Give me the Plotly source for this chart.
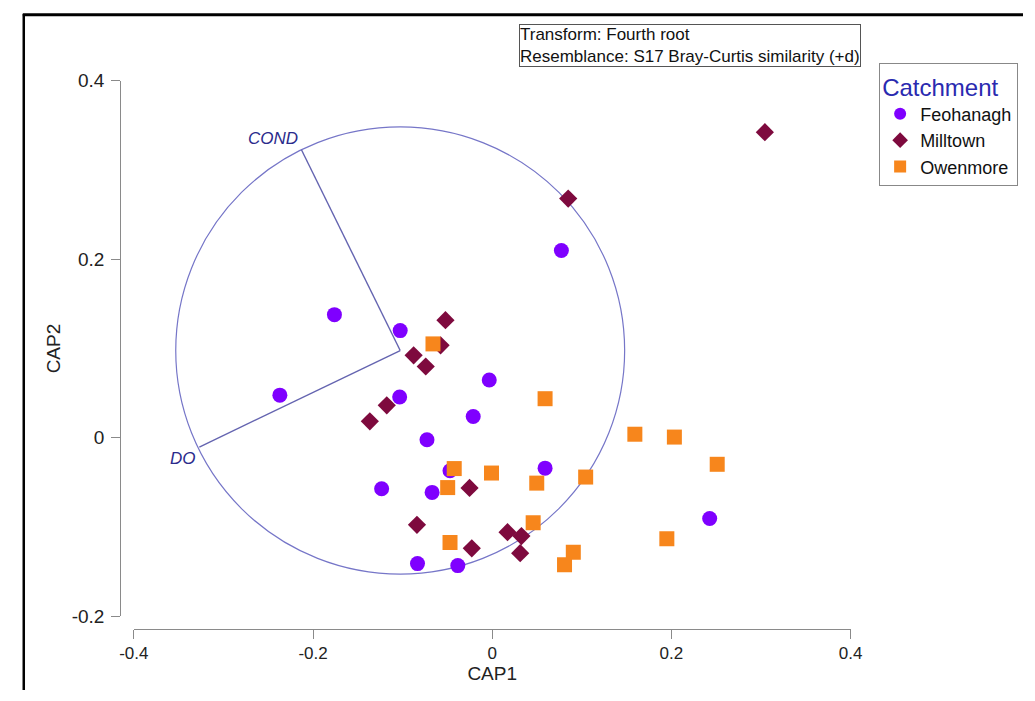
import plotly.graph_objects as go

W, H = 1035, 701

# ---- data ----
feo_x = [0.0772, -0.1761, -0.1027, -0.2370, -0.1033, -0.0033, -0.0212, -0.0728,
         -0.1234, -0.0671, -0.0471, 0.0590, 0.2427, -0.0834, -0.0384]
feo_y = [0.2098, 0.1380, 0.1201, 0.0478, 0.0457, 0.0647, 0.0239, -0.0022,
         -0.0571, -0.0612, -0.0370, -0.0340, -0.0905, -0.1410, -0.1432]

mil_x = [0.3043, 0.0848, -0.0522, -0.0576, -0.0877, -0.0742, -0.1177, -0.1366,
         -0.0253, -0.0840, -0.0228, 0.0171, 0.0326, 0.0312]
mil_y = [0.3424, 0.2680, 0.1318, 0.1036, 0.0924, 0.0799, 0.0364, 0.0185,
         -0.0562, -0.0975, -0.1239, -0.1058, -0.1101, -0.1293]

owe_x = [-0.0661, 0.0590, 0.1592, 0.2033, 0.2511, -0.0424, -0.0008, 0.0497,
         0.1043, -0.0497, 0.0457, -0.0471, 0.0905, 0.0807, 0.1949]
owe_y = [0.1052, 0.0438, 0.0040, 0.0008, -0.0297, -0.0345, -0.0395, -0.0508,
         -0.0440, -0.0558, -0.0953, -0.1174, -0.1283, -0.1424, -0.1130]

# vector overlay: correlations with CAP axes, drawn in a circle
vec_names = ["COND", "DO"]
vec_cx = [-0.440, -0.895]
vec_cy = [0.898, -0.432]
circle_center = (-0.1027, 0.0978)
circle_radius = 0.2505

x_ticks = [-0.4, -0.2, 0, 0.2, 0.4]
x_tick_text = ["-0.4", "-0.2", "0", "0.2", "0.4"]
y_ticks = [-0.2, 0, 0.2, 0.4]
y_tick_text = ["-0.2", "0", "0.2", "0.4"]

FONT = "Arial, Liberation Sans, sans-serif"

fig = go.Figure()
fig.add_trace(go.Scatter(x=feo_x, y=feo_y, mode="markers", name="Feohanagh",
                         marker=dict(symbol="circle", size=15, color="#7F00FF")))
fig.add_trace(go.Scatter(x=mil_x, y=mil_y, mode="markers", name="Milltown",
                         marker=dict(symbol="diamond", size=14, color="#7E0A3E")))
fig.add_trace(go.Scatter(x=owe_x, y=owe_y, mode="markers", name="Owenmore",
                         marker=dict(symbol="square", size=15, color="#F7861C")))

cx, cy = circle_center
r = circle_radius
shapes = [dict(type="circle", xref="x", yref="y", x0=cx - r, x1=cx + r,
               y0=cy - r, y1=cy + r, line=dict(color="#7676C8", width=1.2),
               layer="below")]
annotations = []
for name, vx, vy in zip(vec_names, vec_cx, vec_cy):
    ex, ey = cx + r * vx, cy + r * vy
    shapes.append(dict(type="line", xref="x", yref="y", x0=cx, y0=cy, x1=ex, y1=ey,
                       line=dict(color="#6464B0", width=1.4), layer="below"))
    annotations.append(dict(x=ex, y=ey, xref="x", yref="y", text="<i>%s</i>" % name,
                            showarrow=False, xanchor="right",
                            yanchor="bottom" if vy > 0 else "top",
                            xshift=-1,
                            font=dict(family=FONT, size=17, color="#2B2B8C")))

# page border (left and top edges visible)
shapes.append(dict(type="line", xref="paper", yref="paper", x0=9 / W, x1=9 / W,
                   y0=0, y1=1 - 4 / H, line=dict(color="black", width=2.5)))
shapes.append(dict(type="line", xref="paper", yref="paper", x0=8 / W, x1=1,
                   y0=1 - 5 / H, y1=1 - 5 / H, line=dict(color="black", width=3)))

annotations.append(dict(x=517 / W, y=1 - 14 / H, xref="paper", yref="paper",
                        xanchor="left", yanchor="top", align="left", showarrow=False,
                        text="Transform: Fourth root<br>Resemblance: S17 Bray-Curtis similarity (+d)",
                        font=dict(family=FONT, size=17, color="#111111"),
                        bordercolor="#555555", borderwidth=1, borderpad=0,
                        bgcolor="white"))

fig.update_layout(
    width=W, height=H,
    margin=dict(l=0, r=0, t=0, b=0),
    paper_bgcolor="white", plot_bgcolor="white",
    font=dict(family=FONT, color="#222222"),
    shapes=shapes, annotations=annotations,
    legend=dict(x=1030 / W, y=1 - 55 / H, xanchor="right", yanchor="top",
                bgcolor="white", bordercolor="#888888", borderwidth=1,
                title=dict(text="Catchment", font=dict(family=FONT, size=24, color="#2A2AB0")),
                font=dict(family=FONT, size=18, color="#111111"),
                itemsizing="constant", tracegroupgap=0, itemwidth=30),
    xaxis=dict(domain=[122 / W, 858 / W], range=[-0.4, 0.4], anchor="free",
               position=(H - 638) / H, showgrid=False, zeroline=False,
               showline=True, linecolor="#8A8A8A", linewidth=1,
               ticks="outside", ticklen=9, tickcolor="#8A8A8A",
               tickvals=x_ticks, ticktext=x_tick_text,
               tickfont=dict(family=FONT, size=17, color="#222222"),
               title=dict(text="CAP1", font=dict(family=FONT, size=19, color="#222222"), standoff=3)),
    yaxis=dict(domain=[(H - 625) / H, (H - 73) / H], range=[-0.2, 0.4], anchor="free",
               position=108 / W, showgrid=False, zeroline=False,
               showline=True, linecolor="#8A8A8A", linewidth=1,
               ticks="outside", ticklen=9, tickcolor="#8A8A8A", ticklabelstandoff=3,
               tickvals=y_ticks, ticktext=y_tick_text,
               tickfont=dict(family=FONT, size=19, color="#222222"),
               title=dict(text="CAP2", font=dict(family=FONT, size=19, color="#222222"), standoff=4)),
)

fig.write_html("out.html")
